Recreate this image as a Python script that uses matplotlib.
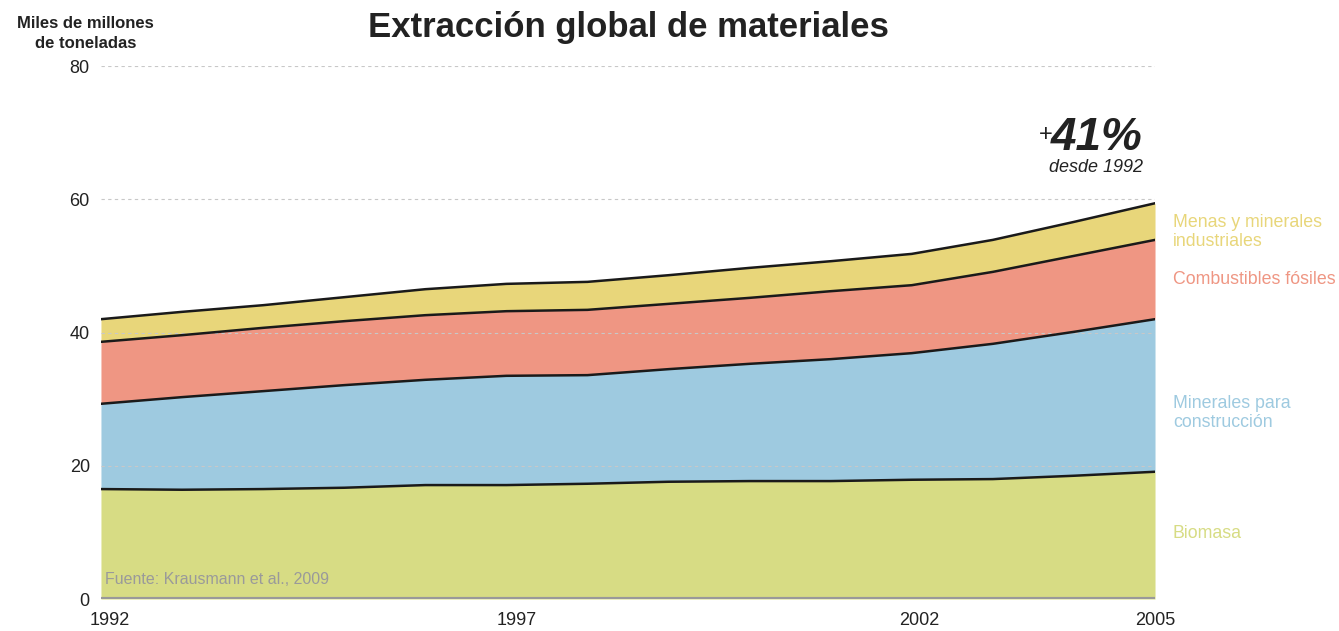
import numpy as np
import matplotlib.pyplot as plt
from matplotlib.transforms import ScaledTranslation

plt.rcParams['font.family'] = ['Liberation Sans', 'DejaVu Sans']

years = list(range(1992, 2006))
biomasa = [16.5, 16.4, 16.5, 16.7, 17.1, 17.1, 17.3, 17.6, 17.7, 17.7, 17.9, 18.0, 18.5, 19.1]
construccion = [12.8, 13.9, 14.7, 15.4, 15.8, 16.4, 16.3, 16.9, 17.6, 18.3, 19.0, 20.3, 21.6, 22.9]
fosiles = [9.3, 9.3, 9.5, 9.6, 9.7, 9.7, 9.8, 9.8, 9.9, 10.2, 10.2, 10.8, 11.4, 11.9]
menas = [3.4, 3.5, 3.4, 3.6, 3.9, 4.1, 4.2, 4.3, 4.5, 4.5, 4.7, 4.8, 5.1, 5.5]

series = [biomasa, construccion, fosiles, menas]
labels = ["Biomasa", "Minerales para\nconstrucción", "Combustibles fósiles",
          "Menas y minerales\nindustriales"]
colors = ["#d7dc84", "#9ecae0", "#ef9683", "#e8d67a"]
label_y = [9.8, 27.9, 47.9, 55.1]

yticks = [0, 20, 40, 60, 80]
xticks = [1992, 1997, 2002, 2005]

fig = plt.figure(figsize=(13.39, 6.31), dpi=100)
ax = fig.add_axes([0.0754, 0.0507, 0.7872, 0.8447])

x = np.array(years)
base = np.zeros(len(years))
for vals, col in zip(series, colors):
    top = base + np.array(vals)
    ax.fill_between(x, base, top, color=col, lw=0, zorder=1)
    ax.plot(x, top, color="#1a1a1a", lw=1.8, zorder=3)
    base = top

for t in yticks[1:]:
    ax.axhline(t, color="#c8c8c8", lw=0.8, ls=(0, (3, 3)), zorder=2)
ax.axhline(0, color="#999999", lw=3, zorder=4)

ax.set_xlim(1992, 2005)
ax.set_ylim(0, 80)
ax.set_yticks(yticks)
ax.set_xticks(xticks)
ax.tick_params(length=0, labelsize=13, colors="#222222")
ax.tick_params(axis="y", pad=8)
ax.tick_params(axis="x", pad=9)
for s in ax.spines.values():
    s.set_visible(False)

# small nudges of year labels, as in the original layout
for lab, dx in zip(ax.get_xticklabels(), [9, 10, 7, 0]):
    lab.set_transform(lab.get_transform() + ScaledTranslation(dx / 100, 0, fig.dpi_scale_trans))

# labels right of the chart
for lab, col, ly in zip(labels, colors, label_y):
    ax.text(2005.22, ly, lab, color=col, fontsize=12.8, va="center", ha="left",
            linespacing=1.15, clip_on=False)

ax.text(1992.05, 1.8, "Fuente: Krausmann et al., 2009", color="#9a9a9a",
        fontsize=11.5, ha="left", va="bottom")

fig.text(0.469, 0.957, "Extracción global de materiales", fontsize=25,
         fontweight="bold", ha="center", va="center", color="#222222")
fig.text(0.064, 0.947, "Miles de millones\nde toneladas", fontsize=12,
         fontweight="bold", ha="center", va="center", color="#222222",
         linespacing=1.4)

ax.text(2004.85, 67.4, "41%", fontsize=33, fontweight="bold", style="italic",
        ha="right", va="baseline", color="#222222")
ax.annotate("+", xy=(2004.85, 69.6), xytext=(-90, 0), textcoords="offset pixels",
            fontsize=17, ha="right", va="center", color="#222222")
ax.text(2004.85, 64.1, "desde 1992", fontsize=13, style="italic",
        ha="right", va="baseline", color="#222222")

fig.savefig("out.png", dpi=100)
